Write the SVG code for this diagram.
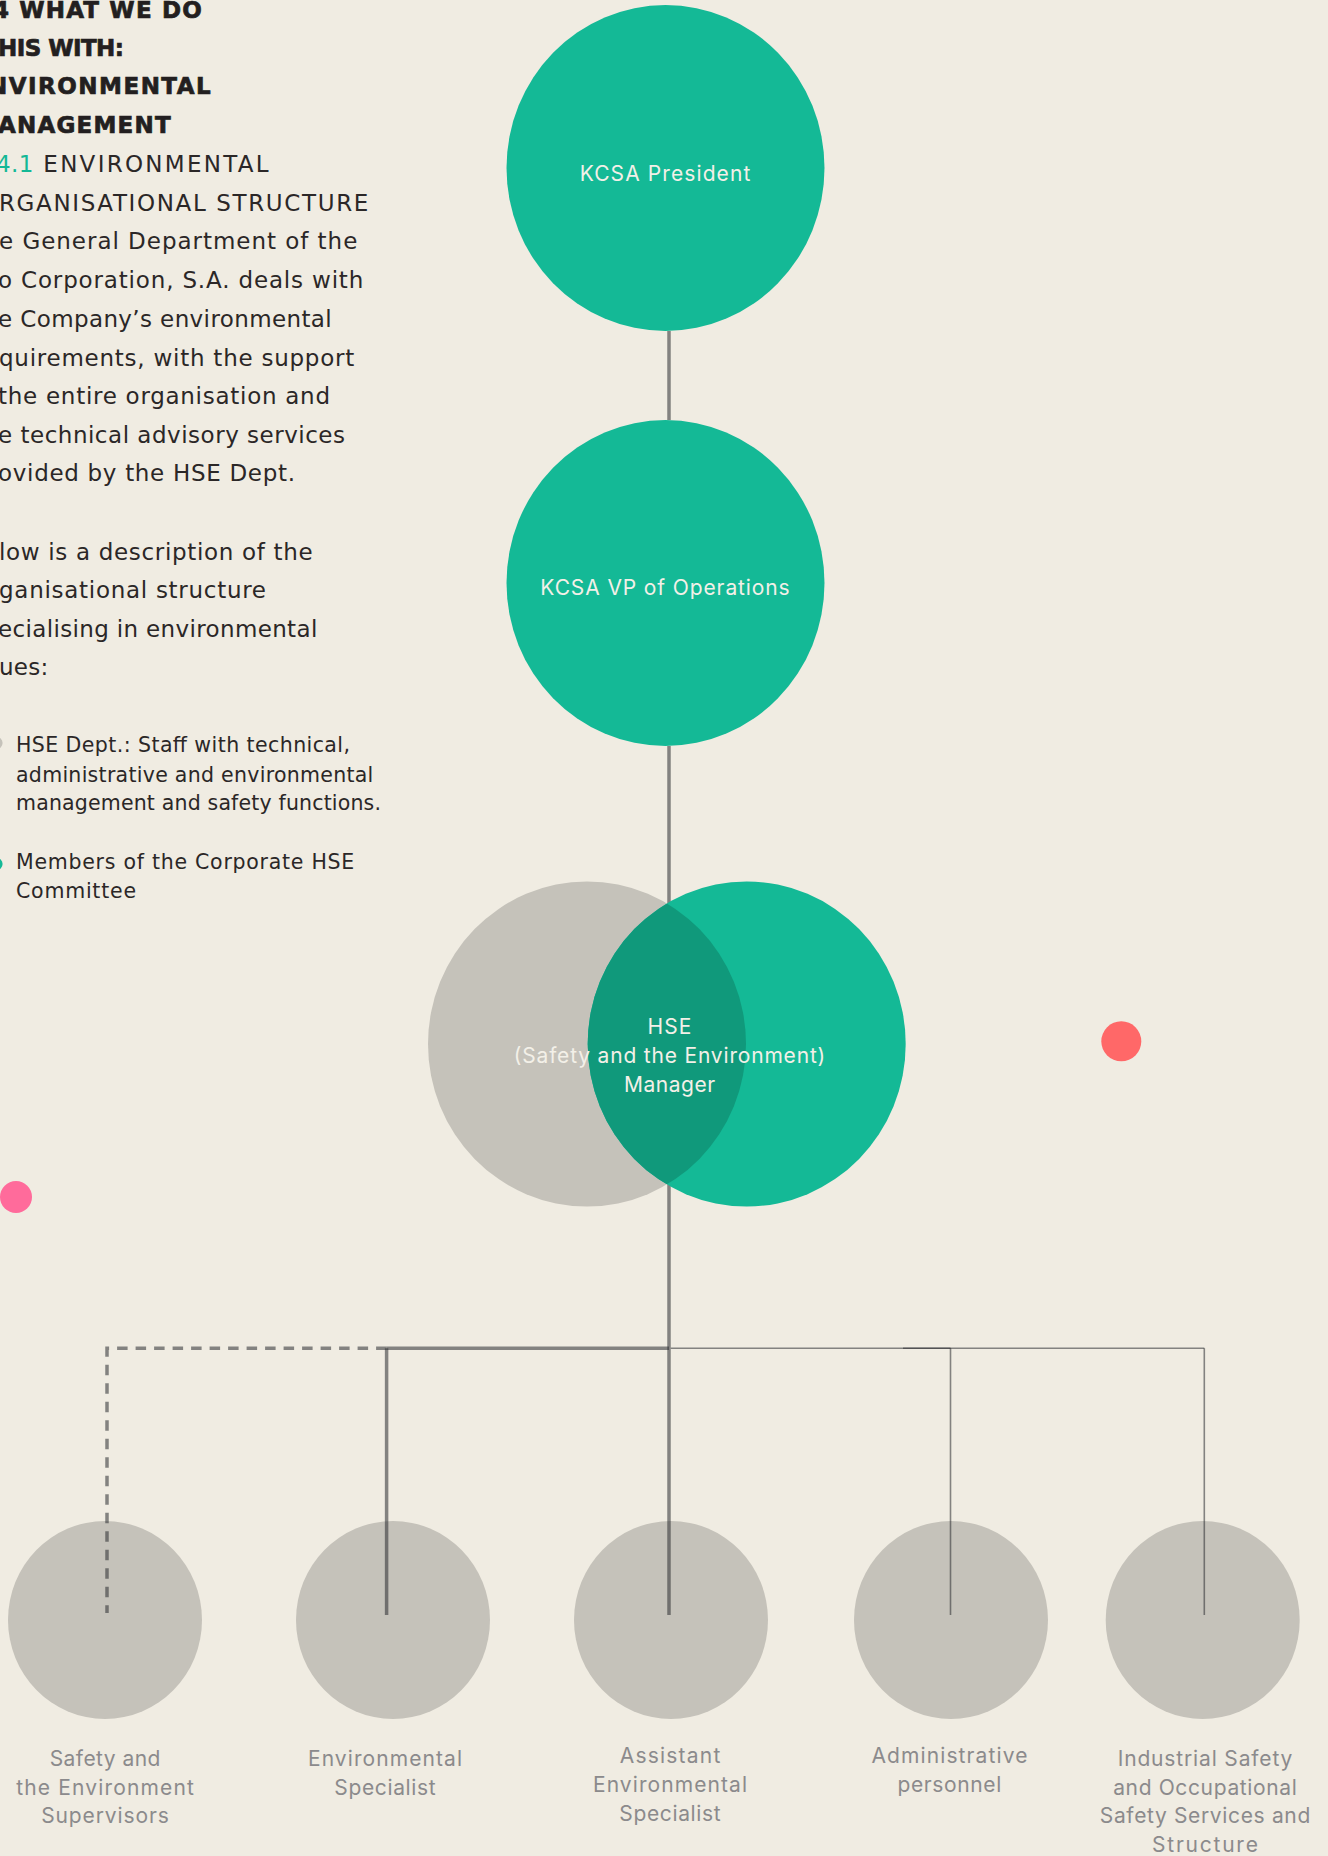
<svg xmlns="http://www.w3.org/2000/svg" width="1328" height="1856" viewBox="0 0 1328 1856">
<defs>
<style>
text{font-family:"Inter","Liberation Sans",sans-serif;}
.h{font-family:"DejaVu Sans","Liberation Sans",sans-serif;font-size:23px;font-weight:700;fill:#231f20;stroke:#231f20;stroke-width:0.7;}
.b{font-family:"DejaVu Sans","Liberation Sans",sans-serif;font-size:23px;fill:#2b2727;}
.bl{font-family:"DejaVu Sans","Liberation Sans",sans-serif;font-size:20.5px;fill:#2b2727;}
.acc{fill:#14b896;}
.w{font-size:21px;fill:#f3f0e8;text-anchor:middle;}
.lab{font-size:21px;fill:#8b8a8c;text-anchor:middle;}
.green{fill:#14b996;}
.grey{fill:#c5c2ba;}
.ln{stroke:#2a2b30;stroke-opacity:0.55;fill:none;}
.thick{stroke-width:3.5;}
.thin{stroke-width:1.6;}
.dash{stroke-width:3.5;stroke-dasharray:10.5 8;}
</style>
<clipPath id="lensClip"><ellipse cx="587" cy="1044" rx="159" ry="162.5"/></clipPath>
</defs>
<rect x="0" y="0" width="1328" height="1856" fill="#f0ece2"/>

<g id="text-block">
<text class="h" x="-7" y="17.5" textLength="208.7" lengthAdjust="spacing">4 WHAT WE DO</text>
<text class="h" x="-2" y="55.7" textLength="126" lengthAdjust="spacing">HIS WITH:</text>
<text class="h" x="-12" y="94.3" textLength="222.7" lengthAdjust="spacing">NVIRONMENTAL</text>
<text class="h" x="-2" y="133" textLength="172.7" lengthAdjust="spacing">ANAGEMENT</text>
<text class="b acc" x="-4" y="171.7" textLength="37.3" lengthAdjust="spacing">4.1</text>
<text class="b" x="43.3" y="171.7" textLength="225.4" lengthAdjust="spacing">ENVIRONMENTAL</text>
<text class="b" x="-1" y="210.7" textLength="369.3" lengthAdjust="spacing">RGANISATIONAL STRUCTURE</text>
<text class="b" x="-1" y="249.3" textLength="358.3" lengthAdjust="spacing">e General Department of the</text>
<text class="b" x="-2" y="288.3" textLength="365.3" lengthAdjust="spacing">o Corporation, S.A. deals with</text>
<text class="b" x="-2" y="326.7" textLength="333.7" lengthAdjust="spacing">e Company’s environmental</text>
<text class="b" x="-1" y="365.7" textLength="355.3" lengthAdjust="spacing">quirements, with the support</text>
<text class="b" x="-2" y="404" textLength="332" lengthAdjust="spacing">the entire organisation and</text>
<text class="b" x="-2" y="442.7" textLength="347" lengthAdjust="spacing">e technical advisory services</text>
<text class="b" x="-2" y="481" textLength="297" lengthAdjust="spacing">ovided by the HSE Dept.</text>
<text class="b" x="-1" y="560" textLength="313.7" lengthAdjust="spacing">low is a description of the</text>
<text class="b" x="-1" y="597.7" textLength="267" lengthAdjust="spacing">ganisational structure</text>
<text class="b" x="-2" y="636.7" textLength="319.3" lengthAdjust="spacing">ecialising in environmental</text>
<text class="b" x="-1" y="675" textLength="49.3" lengthAdjust="spacing">ues:</text>
<circle cx="-3.4" cy="743" r="6" class="grey"/>
<text class="bl" x="16" y="752.3" textLength="334" lengthAdjust="spacing">HSE Dept.: Staff with technical,</text>
<text class="bl" x="16" y="781.7" textLength="357.3" lengthAdjust="spacing">administrative and environmental</text>
<text class="bl" x="16" y="810" textLength="365" lengthAdjust="spacing">management and safety functions.</text>
<circle cx="-3.4" cy="864" r="6" class="green"/>
<text class="bl" x="16" y="869.3" textLength="338.3" lengthAdjust="spacing">Members of the Corporate HSE</text>
<text class="bl" x="16" y="898.3" textLength="120" lengthAdjust="spacing">Committee</text>
</g>

<g id="decor">
<circle cx="1121.3" cy="1041.3" r="20" fill="#ff6868"/>
<circle cx="16" cy="1197" r="16" fill="#ff6b9b"/>
</g>

<g id="node-supervisors">
<ellipse cx="105" cy="1620" rx="97" ry="99" class="grey"/>
<text class="lab" x="105" y="1766" textLength="110.7" lengthAdjust="spacing">Safety and</text>
<text class="lab" x="105" y="1795" textLength="177.7" lengthAdjust="spacing">the Environment</text>
<text class="lab" x="105" y="1823.3" textLength="127.7" lengthAdjust="spacing">Supervisors</text>
</g>
<g id="node-env-specialist">
<ellipse cx="393" cy="1620" rx="97" ry="99" class="grey"/>
<text class="lab" x="385" y="1766" textLength="154" lengthAdjust="spacing">Environmental</text>
<text class="lab" x="385" y="1795" textLength="101.3" lengthAdjust="spacing">Specialist</text>
</g>
<g id="node-assistant">
<ellipse cx="671" cy="1620" rx="97" ry="99" class="grey"/>
<text class="lab" x="670" y="1763.3" textLength="100.6" lengthAdjust="spacing">Assistant</text>
<text class="lab" x="670" y="1791.7" textLength="154" lengthAdjust="spacing">Environmental</text>
<text class="lab" x="670" y="1820.7" textLength="101.3" lengthAdjust="spacing">Specialist</text>
</g>
<g id="node-admin">
<ellipse cx="951" cy="1620" rx="97" ry="99" class="grey"/>
<text class="lab" x="949.4" y="1763" textLength="156" lengthAdjust="spacing">Administrative</text>
<text class="lab" x="949.4" y="1792" textLength="103.8" lengthAdjust="spacing">personnel</text>
</g>
<g id="node-industrial">
<ellipse cx="1202.7" cy="1620" rx="97" ry="99" class="grey"/>
<text class="lab" x="1205" y="1766" textLength="174.7" lengthAdjust="spacing">Industrial Safety</text>
<text class="lab" x="1205" y="1795" textLength="183.7" lengthAdjust="spacing">and Occupational</text>
<text class="lab" x="1205" y="1823" textLength="210.5" lengthAdjust="spacing">Safety Services and</text>
<text class="lab" x="1205" y="1852" textLength="105.9" lengthAdjust="spacing">Structure</text>
</g>

<g id="connectors">
<line x1="669" y1="331" x2="669" y2="420" class="ln thick"/>
<line x1="669" y1="746" x2="669" y2="1615" class="ln thick"/>
<line x1="386.6" y1="1348.3" x2="669" y2="1348.3" class="ln thick"/>
<line x1="386.6" y1="1348.3" x2="386.6" y2="1615" class="ln thick"/>
<polyline points="386.6,1348.3 107,1348.3 107,1613" class="ln dash"/>
<line x1="670.8" y1="1348.3" x2="1204.3" y2="1348.3" class="ln thin"/>
<line x1="903" y1="1348.3" x2="950.5" y2="1348.3" class="ln thin"/>
<line x1="950.5" y1="1348.3" x2="950.5" y2="1615" class="ln thin"/>
<line x1="1204.3" y1="1348.3" x2="1204.3" y2="1615" class="ln thin"/>
</g>

<g id="node-president">
<ellipse cx="665.5" cy="168" rx="159" ry="163" class="green"/>
<text class="w" x="665" y="181" textLength="170.7" lengthAdjust="spacing">KCSA President</text>
</g>
<g id="node-vp">
<ellipse cx="665.5" cy="583" rx="159" ry="163" class="green"/>
<text class="w" x="665" y="595" textLength="249.3" lengthAdjust="spacing">KCSA VP of Operations</text>
</g>
<g id="node-hse">
<ellipse cx="587" cy="1044" rx="159" ry="162.5" class="grey"/>
<ellipse cx="746.7" cy="1044" rx="159" ry="162.5" class="green"/>
<ellipse cx="746.7" cy="1044" rx="159" ry="162.5" fill="#10997b" clip-path="url(#lensClip)"/>
<text class="w" x="669.5" y="1034" textLength="43.8" lengthAdjust="spacing">HSE</text>
<text class="w" x="669.5" y="1062.7" textLength="311.5" lengthAdjust="spacing">(Safety and the Environment)</text>
<text class="w" x="669.5" y="1091.7" textLength="91.2" lengthAdjust="spacing">Manager</text>
</g>
</svg>
